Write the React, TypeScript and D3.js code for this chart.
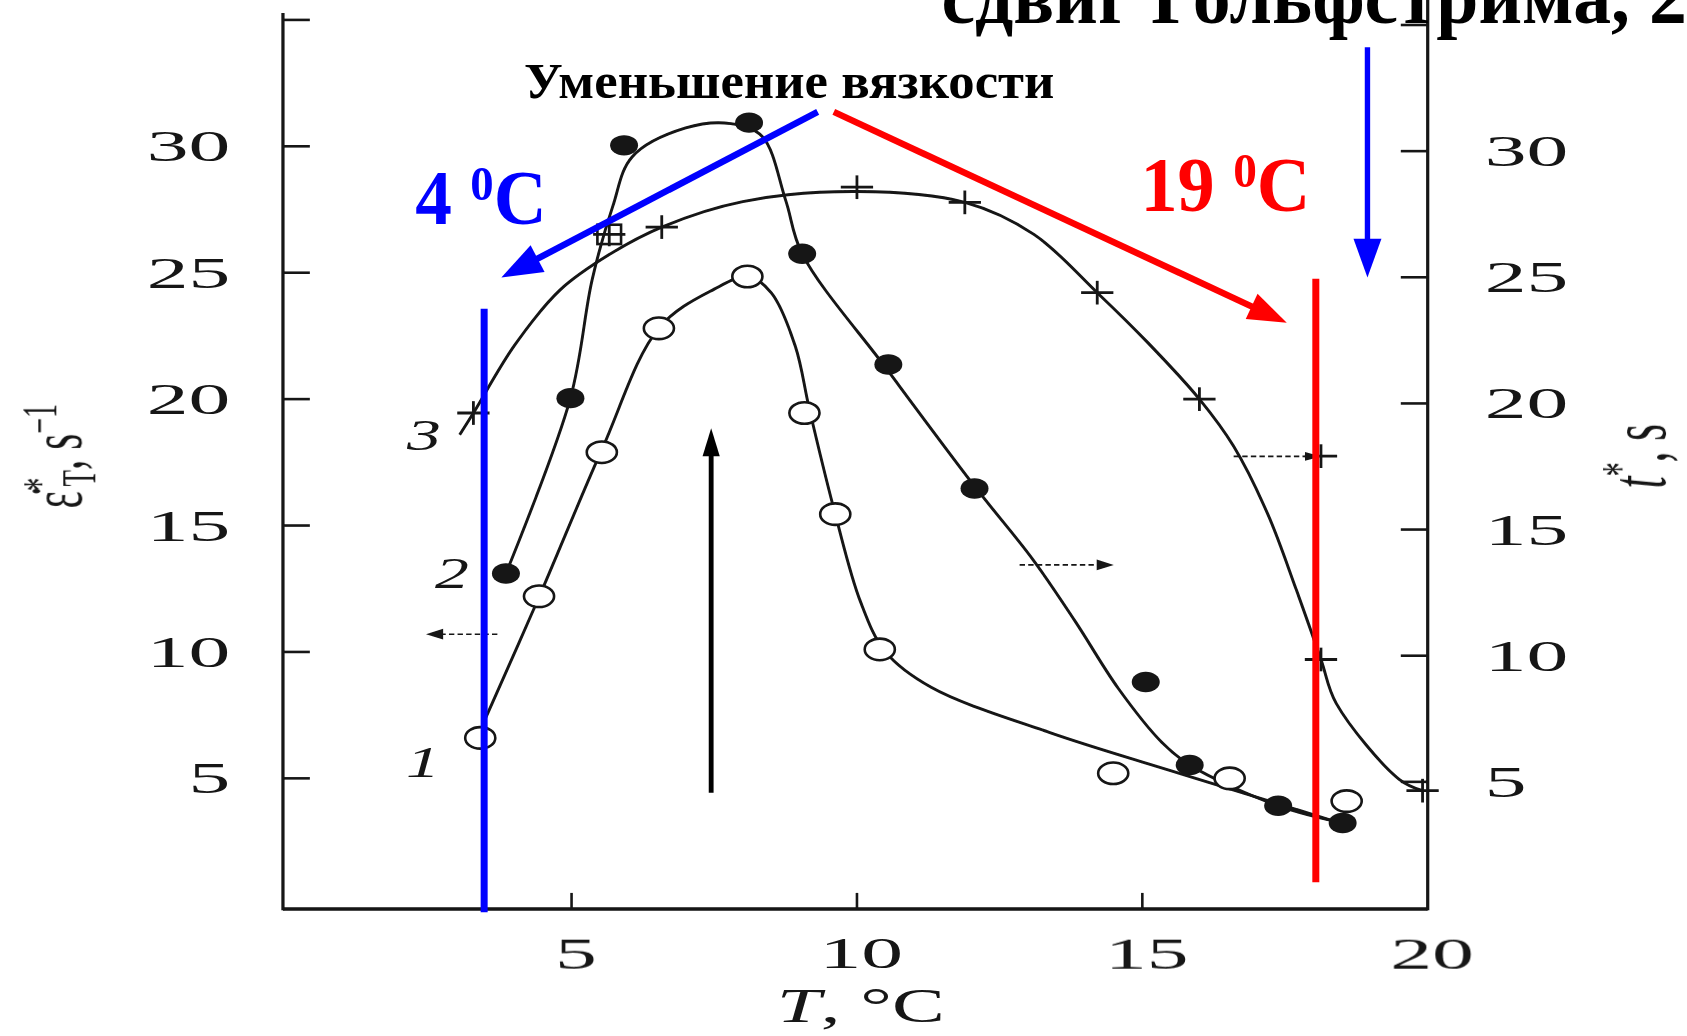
import React from "react";
import * as d3 from "d3";

// ---- series 1: open circles, strain rate (left axis) ----
const openT = [3.4, 4.43, 5.53, 6.53, 8.08, 9.08, 9.62, 10.4, 14.49, 16.53, 18.58];
const openRate = [6.6, 12.2, 17.9, 22.8, 24.85, 19.45, 15.45, 10.1, 5.2, 5.0, 4.1];
const fit1T = [3.49, 4.43, 5.53, 6.53, 7.5, 8.1, 8.5, 8.92, 9.17, 9.62, 10.06, 10.5, 11.3, 13.38, 15.72, 18.3];
const fit1V = [7.36, 12.17, 18.0, 22.81, 24.35, 24.85, 24.2, 22.09, 19.57, 15.45, 12.0, 10.0, 8.6, 6.81, 5.15, 3.35];

// ---- series 2: filled circles (right axis) ----
const filledT = [3.85, 4.98, 5.92, 8.11, 9.04, 10.55, 12.06, 15.06, 15.83, 17.38, 18.51];
const filledV = [13.26, 20.21, 30.23, 31.13, 25.93, 21.54, 16.63, 8.96, 5.67, 4.05, 3.37];
const fit2T = [3.85, 4.98, 5.36, 5.72, 6.06, 7.0, 7.79, 8.34, 8.75, 9.04, 10.55, 12.06, 13.08, 13.83, 14.58, 15.34, 15.83, 17.38, 18.51];
const fit2V = [13.26, 20.21, 24.9, 27.8, 29.77, 30.92, 31.09, 30.58, 28.06, 25.93, 21.28, 16.72, 13.82, 11.34, 8.7, 6.57, 5.67, 4.05, 3.37];

// ---- series 3: crosses (right axis) ----
const crossT = [3.28, 5.66, 6.58, 10.0, 11.89, 14.21, 16.0, 18.13, 18.13, 19.91];
const crossV = [19.62, 26.7, 26.99, 28.57, 27.97, 24.39, 20.17, 17.91, 9.85, 4.65];
const fit3T = [3.04, 3.28, 4.0, 4.8, 5.66, 6.58, 8.0, 10.0, 11.89, 13.1, 14.21, 15.1, 16.0, 16.6, 17.2, 17.7, 18.13, 18.4, 19.5, 19.91];
const fit3V = [18.76, 19.62, 22.3, 24.5, 25.9, 26.99, 28.0, 28.4, 27.97, 26.7, 24.39, 22.4, 20.17, 18.3, 15.6, 12.6, 9.85, 8.1, 5.1, 4.65];

// ---- axes ----
const xTicks = [5, 10, 15, 20];
const yTicks = [5, 10, 15, 20, 25, 30, 35];
const yTickLabels = ["5", "10", "15", "20", "25", "30", ""];

const zip = (a: number[], b: number[]) => a.map((v, i) => [v, b[i]] as [number, number]);

const INK = "#141414";
const SCAN_FONT = "'Liberation Serif', 'DejaVu Serif', serif";
const BOLD_FONT = "'Liberation Serif', 'Times New Roman', serif";

function Arrow({ x1, y1, x2, y2, color, width, head, headW }: any) {
  const a = Math.atan2(y2 - y1, x2 - x1);
  const bx = x2 - head * Math.cos(a);
  const by = y2 - head * Math.sin(a);
  const px = (-Math.sin(a) * headW) / 2;
  const py = (Math.cos(a) * headW) / 2;
  return (
    <g>
      <line x1={x1} y1={y1} x2={bx + Math.cos(a) * 2} y2={by + Math.sin(a) * 2} stroke={color} strokeWidth={width} />
      <polygon points={`${x2},${y2} ${bx + px},${by + py} ${bx - px},${by - py}`} fill={color} />
    </g>
  );
}

function ScanText({ x, y, sx = 1.85, size = 42, anchor = "middle", italic = false, children }: any) {
  return (
    <text
      transform={`translate(${x},${y}) scale(${sx},1)`}
      textAnchor={anchor}
      fontFamily={SCAN_FONT}
      fontSize={size}
      fontStyle={italic ? "italic" : "normal"}
      fill={INK}
    >
      {children}
    </text>
  );
}

export default function App() {
  const x = d3.scaleLinear().domain([0, 20]).range([266, 1327]);
  const yL = d3.scaleLinear().domain([0, 35]).range([841, 18.5]);
  const yR = d3.scaleLinear().domain([0, 35]).range([844, 23.25]);
  const curve = (ys: d3.ScaleLinear<number, number>) =>
    d3.line<[number, number]>().x((d) => x(d[0])).y((d) => ys(d[1])).curve(d3.curveCatmullRom.alpha(0.5));

  const xLeft = 263;
  const xRight = x(20);
  const yBottom = 845;

  return (
    <div style={{ position: "fixed", left: 0, top: 0, width: 1687, height: 1036, background: "#fff", overflow: "hidden" }}>
      <svg width={1687} height={1036} viewBox="0 0 1568 963" preserveAspectRatio="none" style={{ display: "block" }}>
        <defs>
          <filter id="soft" x="-5%" y="-5%" width="110%" height="110%">
            <feGaussianBlur stdDeviation="0.6" />
          </filter>
        </defs>
        <rect x={0} y={0} width={1568} height={963} fill="#fff" />

        {/* printed plot */}
        <g filter="url(#soft)">
          {/* frame */}
          <line x1={xLeft} y1={12} x2={xLeft} y2={yBottom + 1} stroke={INK} strokeWidth={3} />
          <line x1={xRight} y1={0} x2={xRight} y2={yBottom + 1} stroke={INK} strokeWidth={3} />
          <line x1={xLeft} y1={yBottom} x2={xRight} y2={yBottom} stroke={INK} strokeWidth={3.2} />

          {/* left ticks and labels */}
          {yTicks.map((t, i) => (
            <g key={"l" + t}>
              <line x1={xLeft} y1={yL(t)} x2={xLeft + 25} y2={yL(t)} stroke={INK} strokeWidth={2.4} />
              {yTickLabels[i] && (
                <ScanText x={214} y={yL(t) + 14} anchor="end">
                  {yTickLabels[i]}
                </ScanText>
              )}
            </g>
          ))}

          {/* right ticks and labels */}
          {yTicks.map((t, i) => (
            <g key={"r" + t}>
              <line x1={xRight - 25} y1={yR(t)} x2={xRight} y2={yR(t)} stroke={INK} strokeWidth={2.4} />
              {yTickLabels[i] && (
                <ScanText x={1380} y={yR(t) + 14} anchor="start">
                  {yTickLabels[i]}
                </ScanText>
              )}
            </g>
          ))}

          {/* bottom ticks and labels */}
          {xTicks.map((t) => (
            <g key={"b" + t}>
              {t < 20 && <line x1={x(t)} y1={yBottom} x2={x(t)} y2={yBottom - 15} stroke={INK} strokeWidth={2.4} />}
              <ScanText x={x(t) + 4} y={900}>
                {String(t)}
              </ScanText>
            </g>
          ))}

          {/* axis titles */}
          <g transform="translate(76,424) scale(1.8,1) rotate(-90)">
            <text textAnchor="middle" fontFamily={SCAN_FONT} fontSize={38} fill={INK}>
              <tspan>ε̇</tspan>
              <tspan dy={-13} fontSize={25}>*</tspan>
              <tspan dy={20} dx={-8} fontSize={25}>T</tspan>
              <tspan dy={-7}>, s</tspan>
              <tspan dy={-13} fontSize={26}>−1</tspan>
            </text>
          </g>
          <g transform="translate(1548,424) scale(1.85,1) rotate(-90)">
            <text textAnchor="middle" fontFamily={SCAN_FONT} fontSize={40} fill={INK}>
              <tspan fontStyle="italic">t</tspan>
              <tspan dy={-14} fontSize={26}>*</tspan>
              <tspan dy={14}>, s</tspan>
            </text>
          </g>
          <ScanText x={800} y={950} sx={1.6} size={46}>
            <tspan fontStyle="italic">T</tspan>
            <tspan>, °C</tspan>
          </ScanText>

          {/* curve labels */}
          <ScanText x={393} y={722} sx={1.5} italic>1</ScanText>
          <ScanText x={420} y={547} sx={1.5} italic>2</ScanText>
          <ScanText x={394} y={418} sx={1.5} italic>3</ScanText>

          {/* fitted curves */}
          <path d={curve(yL)(zip(fit1T, fit1V)) || ""} fill="none" stroke={INK} strokeWidth={2.7} />
          <path d={curve(yR)(zip(fit2T, fit2V)) || ""} fill="none" stroke={INK} strokeWidth={2.7} />
          <path d={curve(yR)(zip(fit3T, fit3V)) || ""} fill="none" stroke={INK} strokeWidth={2.7} />

          {/* axis pointers */}
          <g stroke={INK} strokeWidth={1.6} strokeDasharray="5 3" fill="none">
            <line x1={x(3.7)} y1={yL(10.7)} x2={x(2.65)} y2={yL(10.7)} />
            <line x1={x(12.85)} y1={yR(13.6)} x2={x(14.3)} y2={yR(13.6)} />
            <line x1={x(16.6)} y1={yR(17.9)} x2={x(17.95)} y2={yR(17.9)} />
          </g>
          <polygon points={`${x(2.45)},${yL(10.7)} ${x(2.75)},${yL(10.7) - 5} ${x(2.75)},${yL(10.7) + 5}`} fill={INK} />
          <polygon points={`${x(14.5)},${yR(13.6)} ${x(14.2)},${yR(13.6) - 5} ${x(14.2)},${yR(13.6) + 5}`} fill={INK} />
          <polygon points={`${x(18.13)},${yR(17.9)} ${x(17.85)},${yR(17.9) - 4} ${x(17.85)},${yR(17.9) + 4}`} fill={INK} />

          {/* markers: crosses */}
          {crossT.map((t, i) => (
            <g key={"c" + i} stroke={INK} strokeWidth={2.6}>
              <line x1={x(t) - 15} y1={yR(crossV[i])} x2={x(t) + 15} y2={yR(crossV[i])} />
              <line x1={x(t)} y1={yR(crossV[i]) - 11} x2={x(t)} y2={yR(crossV[i]) + 11} />
            </g>
          ))}
          <rect x={x(crossT[1]) - 11} y={yR(crossV[1]) - 9} width={22} height={18} fill="none" stroke={INK} strokeWidth={2.4} />

          {/* markers: filled circles */}
          {filledT.map((t, i) => (
            <ellipse key={"f" + i} cx={x(t)} cy={yR(filledV[i])} rx={13} ry={9.5} fill={INK} />
          ))}

          {/* markers: open circles */}
          {openT.map((t, i) => (
            <ellipse key={"o" + i} cx={x(t)} cy={yL(openRate[i])} rx={14} ry={10} fill="#fff" stroke={INK} strokeWidth={2.4} />
          ))}
        </g>

        {/* overlay annotations */}
        <text x={875} y={21} fontFamily={BOLD_FONT} fontWeight="bold" fontSize={72} fill="#000" textLength={728} lengthAdjust="spacingAndGlyphs">
          сдвиг Гольфстрима, 20
        </text>
        <text x={487} y={91} fontFamily={BOLD_FONT} fontWeight="bold" fontSize={47} fill="#000" textLength={493} lengthAdjust="spacingAndGlyphs">
          Уменьшение вязкости
        </text>
        <text x={386} y={208} fontFamily={BOLD_FONT} fontWeight="bold" fontSize={72} fill="#0000ff" textLength={122} lengthAdjust="spacingAndGlyphs">
          <tspan>4 </tspan>
          <tspan dy={-22} fontSize={46}>0</tspan>
          <tspan dy={22}>C</tspan>
        </text>
        <text x={1060} y={196} fontFamily={BOLD_FONT} fontWeight="bold" fontSize={72} fill="#ff0000" textLength={158} lengthAdjust="spacingAndGlyphs">
          <tspan>19 </tspan>
          <tspan dy={-22} fontSize={46}>0</tspan>
          <tspan dy={22}>C</tspan>
        </text>

        <line x1={450} y1={287} x2={450} y2={848} stroke="#0000ff" strokeWidth={6.5} />
        <line x1={1223} y1={259} x2={1223} y2={820} stroke="#ff0000" strokeWidth={6.5} />

        <Arrow x1={760} y1={104} x2={466} y2={258} color="#0000ff" width={6} head={38} headW={28} />
        <Arrow x1={775} y1={104} x2={1196} y2={300} color="#ff0000" width={6} head={36} headW={26} />
        <Arrow x1={1271} y1={44} x2={1271} y2={258} color="#0000ff" width={5} head={36} headW={26} />
        <Arrow x1={661} y1={737} x2={661} y2={398} color="#000" width={4.5} head={26} headW={16} />
      </svg>
    </div>
  );
}
